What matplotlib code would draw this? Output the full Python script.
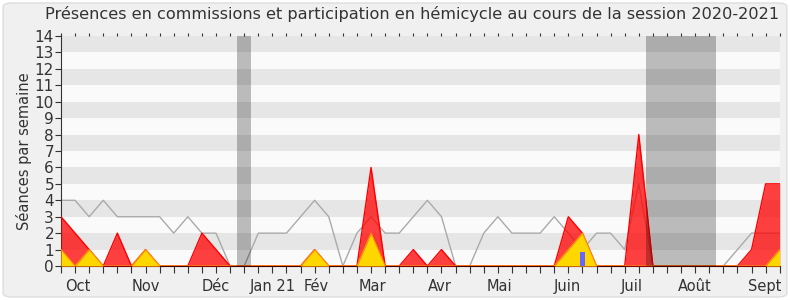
import numpy as np
import matplotlib.pyplot as plt
from matplotlib.patches import FancyBboxPatch

weeks = np.arange(52)

# grey line: seances in hemicycle per week
hemicycle = [4, 4, 3, 4, 3, 3, 3, 3, 2, 3, 2, 2, 0, 0, 2, 2, 2, 3, 4, 3,
             0, 2, 3, 2, 2, 3, 4, 3, 0, 0, 2, 3, 2, 2, 2, 3, 2, 1, 2, 2,
             1, 5, 0, 0, 0, 0, 0, 0, 1, 2, 2, 2]
# red area: presences en commission
commission = [3, 2, 1, 0, 2, 0, 1, 0, 0, 0, 2, 1, 0, 0, 0, 0, 0, 0, 1, 0,
              0, 0, 6, 0, 0, 1, 0, 1, 0, 0, 0, 0, 0, 0, 0, 0, 3, 2, 0, 0,
              0, 8, 0, 0, 0, 0, 0, 0, 0, 1, 5, 5]
# yellow area: interventions
interventions = [1, 0, 1, 0, 0, 0, 1, 0, 0, 0, 0, 0, 0, 0, 0, 0, 0, 0, 1, 0,
                 0, 0, 2, 0, 0, 0, 0, 0, 0, 0, 0, 0, 0, 0, 0, 0, 1, 2, 0, 0,
                 0, 0, 0, 0, 0, 0, 0, 0, 0, 0, 0, 1]
# blue bar: questions
question_week = [37]
question_val = [0.85]

vacances = [(12.5, 13.5), (41.5, 46.5)]

mois = ['Oct', 'Nov', 'Déc', 'Jan 21', 'Fév', 'Mar', 'Avr', 'Mai', 'Juin', 'Juil', 'Août', 'Sept']
mois_pos = [1.2, 6.0, 11.0, 15.0, 18.1, 22.1, 26.9, 31.1, 35.95, 40.5, 45.0, 49.9]

fig = plt.figure(figsize=(7.9, 3.0), dpi=100)
fig.patch.set_facecolor('white')
bg = FancyBboxPatch((0.004, 0.01), 0.992, 0.98, boxstyle='round,pad=0,rounding_size=0.012',
                    transform=fig.transFigure, facecolor='#f0f0f0',
                    edgecolor='#dddddd', linewidth=1, zorder=-10)
fig.patches.append(bg)

ax = fig.add_axes([0.0772, 0.1133, 0.9098, 0.7667])
ax.set_facecolor('#fafafa')

# horizontal stripes
for y in range(1, 14, 2):
    ax.axhspan(y, y + 1, color='#e6e6e6', lw=0, zorder=0)

ax.plot(weeks, hemicycle, color='#aaaaaa', lw=1, zorder=2)
ax.fill_between(weeks, commission, color='red', alpha=0.75, lw=0, zorder=3)
ax.plot(weeks, commission, color='red', lw=1, zorder=3)
ax.fill_between(weeks, interventions, color='#ffd700', lw=0, zorder=4)
ax.plot(weeks, interventions, color='#ff9900', lw=0.8, zorder=4)
ax.bar(question_week, question_val, width=0.35, color='#6666ff', zorder=5)

for a, b in vacances:
    ax.axvspan(a, b, color='black', alpha=0.25, lw=0, zorder=6)

ax.set_xlim(0, 51)
ax.set_ylim(0, 14)
ax.set_yticks(range(15))
ax.tick_params(axis='y', labelsize=11, length=4, pad=1, colors='#333333')
ax.set_xticks(weeks)
ax.set_xticklabels([])
ax.tick_params(axis='x', length=5, color='#333333')
ax.tick_params(axis='x', which='both', top=True, direction='out')
for t in ax.xaxis.get_major_ticks():
    t.tick2line.set_markersize(2)
    t.tick2line.set_color('#555555')
    t.tick2line.set_linestyle(':')

for m, p in zip(mois, mois_pos):
    ax.text(p, -0.055, m, transform=ax.get_xaxis_transform(), ha='center', va='top',
            fontsize=10.5, color='#333333')

for s in ['top', 'right']:
    ax.spines[s].set_visible(False)
ax.spines['left'].set_color('#333333')
ax.spines['bottom'].set_color('#400000')

ax.set_ylabel('Séances par semaine', fontsize=10.5, color='#333333', labelpad=2)
fig.text(0.522, 0.952, 'Présences en commissions et participation en hémicycle au cours de la session 2020-2021',
         ha='center', va='center', fontsize=11.6, color='#333333')

fig.savefig('out.png', dpi=100, facecolor=fig.get_facecolor())
